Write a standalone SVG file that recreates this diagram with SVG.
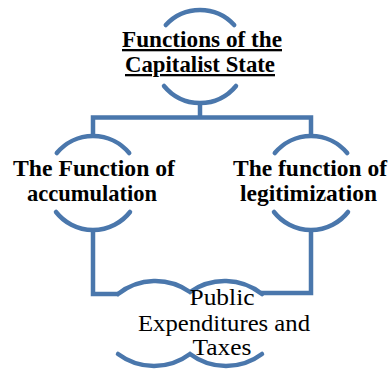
<svg xmlns="http://www.w3.org/2000/svg" width="390" height="374" viewBox="0 0 390 374">
  <style>
    .shape { fill: none; stroke: #4a77ac; stroke-width: 4.5; stroke-linecap: round; }
    .conn { fill: none; stroke: #4a77ac; stroke-width: 4.5; stroke-linejoin: miter; stroke-linecap: butt; }
    text { font-family: 'Liberation Serif', 'DejaVu Serif', serif; fill: #000; text-anchor: middle; }
    .lbl { font-size: 23px; font-weight: bold; }
    .lblr { font-size: 24px; font-weight: normal; }
  </style>
  <rect width="390" height="374" fill="#ffffff"/>
  <g id="connectors">
    <path class="conn" d="M200,102 V117.5"/>
    <path class="conn" d="M93,137 V117.5 H311 V137"/>
    <path class="conn" d="M93,229 V294 H119"/>
    <path class="conn" d="M311,229 V293 H261"/>
  </g>
  <g id="node-state">
    <path class="shape" d="M165.8,25 A46.5,46.5 0 0 1 234.2,25"/>
    <path class="shape" d="M164,86 A46.5,46.5 0 0 0 236,86"/>
    <text class="lbl" x="202" y="47" text-decoration="underline" textLength="160" lengthAdjust="spacingAndGlyphs">Functions of the</text>
    <text class="lbl" x="200" y="72" text-decoration="underline" textLength="150" lengthAdjust="spacingAndGlyphs">Capitalist State</text>
  </g>
  <g id="node-accumulation">
    <path class="shape" d="M56.8,153 A47,47 0 0 1 129.2,153"/>
    <path class="shape" d="M56,212 A47,47 0 0 0 130,212"/>
    <text class="lbl" x="94" y="176" textLength="162" lengthAdjust="spacingAndGlyphs">The Function of</text>
    <text class="lbl" x="92" y="201" textLength="130" lengthAdjust="spacingAndGlyphs">accumulation</text>
  </g>
  <g id="node-legitimization">
    <path class="shape" d="M274.8,153 A47,47 0 0 1 347.2,153"/>
    <path class="shape" d="M274,212 A47,47 0 0 0 348,212"/>
    <text class="lbl" x="310" y="176" textLength="154" lengthAdjust="spacingAndGlyphs">The function of</text>
    <text class="lbl" x="308.5" y="201" textLength="137" lengthAdjust="spacingAndGlyphs">legitimization</text>
  </g>
  <g id="node-public">
    <path class="shape" d="M118,294 A60,60 0 0 1 190,292 A60,60 0 0 1 262,294"/>
    <path class="shape" d="M118,354 A60,60 0 0 0 190,354 A60,60 0 0 0 262,354"/>
    <text class="lblr" x="222" y="305" textLength="65" lengthAdjust="spacingAndGlyphs">Public</text>
    <text class="lblr" x="224" y="331" textLength="172" lengthAdjust="spacingAndGlyphs">Expenditures and</text>
    <text class="lblr" x="222" y="355" textLength="59" lengthAdjust="spacingAndGlyphs">Taxes</text>
  </g>
</svg>
